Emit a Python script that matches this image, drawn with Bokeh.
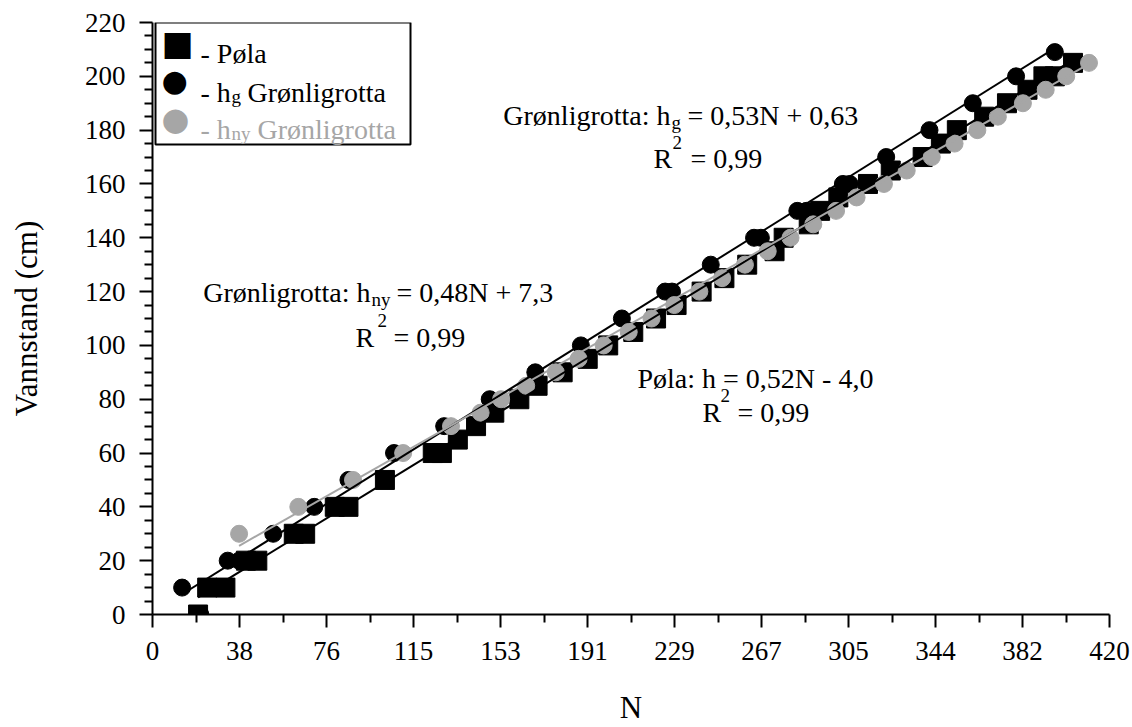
from bokeh.plotting import figure
from bokeh.models import (FixedTicker, CustomJSTickFormatter, Label, BoxAnnotation, Range1d)
from bokeh.embed import file_html
from bokeh.resources import INLINE

# ---------------- data ----------------
pola_N = [20, 24, 32, 41, 46, 62, 67, 80, 86, 102, 123, 127, 134, 142, 150, 161, 169, 180, 191,
          200, 211, 221, 230, 241, 251, 261, 273, 277, 288, 293, 301, 314, 324, 338, 346, 353,
          365, 375, 384, 391, 396, 404]
pola_h = [0, 10, 10, 20, 20, 30, 30, 40, 40, 50, 60, 60, 65, 70, 75, 80, 85, 90, 95,
          100, 105, 110, 115, 120, 125, 130, 135, 140, 145, 150, 155, 160, 165, 170, 175, 180,
          185, 190, 195, 200, 200, 205]

hg_N = [21, 13, 33, 38, 53, 71, 86, 106, 128, 148, 168, 188, 206, 225, 228, 245, 264, 267,
        283, 287, 303, 306, 322, 341, 360, 379, 396]
hg_h = [0, 10, 20, 20, 30, 40, 50, 60, 70, 80, 90, 100, 110, 120, 120, 130, 140, 140,
        150, 150, 160, 160, 170, 180, 190, 200, 209]

hny_N = [38, 64, 88, 110, 131, 144, 153, 164, 177, 187, 198, 209, 219, 229, 240, 250, 260,
         270, 280, 290, 300, 309, 321, 331, 342, 352, 362, 371, 382, 392, 401, 411]
hny_h = [30, 40, 50, 60, 70, 75, 80, 85, 90, 95, 100, 105, 110, 115, 120, 125, 130,
         135, 140, 145, 150, 155, 160, 165, 170, 175, 180, 185, 190, 195, 200, 205]

# trendline coefficients as printed on the chart (slope, intercept)
pola_fit = [0.52, -4.0]
hg_fit = [0.53, 0.63]
hny_fit = [0.48, 7.3]

x_tick_labels = ["0", "38", "76", "115", "153", "191", "229", "267", "305", "344", "382", "420"]
y_tick_labels = ["0", "20", "40", "60", "80", "100", "120", "140", "160", "180", "200", "220"]

BLACK = "#000000"
GRAY = "#a6a6a6"
SERIF = "Liberation Serif"

XMAX, YMAX = 420, 220
# frame position on the canvas (px) - used only to place annotation texts
FL, FR, FT, FB = 152, 1109, 22, 614


def xd(px):
    return (px - FL) * XMAX / (FR - FL)


def yd(py):
    return (FB - py) * YMAX / (FB - FT)


p = figure(frame_width=FR - FL, frame_height=FB - FT,
           x_range=Range1d(0, XMAX), y_range=Range1d(0, YMAX),
           output_backend="svg", toolbar_location=None,
           min_border_left=FL, min_border_right=22, min_border_top=FT, min_border_bottom=112)
p.background_fill_color = "white"
p.border_fill_color = "white"
p.outline_line_color = None
p.grid.visible = False

n = len(x_tick_labels) - 1
x_major = [XMAX * i / n for i in range(n + 1)]
x_minor = [XMAX * (i + 0.5) / n for i in range(n)]
p.xaxis.ticker = FixedTicker(ticks=x_major, minor_ticks=x_minor)
p.xaxis.formatter = CustomJSTickFormatter(args=dict(labels=x_tick_labels),
                                          code="return labels[index];")
y_major = [float(v) for v in y_tick_labels]
y_minor = [v + d for v in y_major[:-1] for d in (5, 10, 15)]
p.yaxis.ticker = FixedTicker(ticks=y_major, minor_ticks=y_minor)

for ax in (p.xaxis[0], p.yaxis[0]):
    ax.axis_line_color = BLACK
    ax.axis_line_width = 2
    ax.major_tick_line_color = BLACK
    ax.major_tick_line_width = 2
    ax.major_tick_out = 13
    ax.major_tick_in = 0
    ax.minor_tick_line_color = BLACK
    ax.minor_tick_line_width = 2
    ax.minor_tick_out = 8
    ax.minor_tick_in = 0
    ax.major_label_text_font = SERIF
    ax.major_label_text_font_size = "27px"
    ax.major_label_text_color = BLACK
    ax.axis_label_text_font = SERIF
    ax.axis_label_text_font_size = "31px"
    ax.axis_label_text_font_style = "normal"
    ax.axis_label_text_color = BLACK

p.xaxis.axis_label = "N"
p.xaxis.major_label_standoff = 14
p.xaxis.axis_label_standoff = 27
p.yaxis.axis_label = "Vannstand (cm)"
p.yaxis.major_label_standoff = 14
p.yaxis.axis_label_standoff = 38

# ---------------- markers ----------------
p.scatter(pola_N, pola_h, marker="square", size=19, fill_color=BLACK, line_color=BLACK)
p.scatter(hg_N, hg_h, marker="circle", size=17, fill_color=BLACK, line_color=BLACK)
p.scatter(hny_N, hny_h, marker="circle", size=17, fill_color=GRAY, line_color=GRAY)

# ---------------- trendlines ----------------
for xs, fit, col in ((pola_N, pola_fit, BLACK), (hg_N, hg_fit, BLACK), (hny_N, hny_fit, GRAY)):
    x0, x1 = min(xs), max(xs)
    p.line([x0, x1], [fit[0] * x0 + fit[1], fit[0] * x1 + fit[1]], line_color=col, line_width=2)


# ---------------- texts ----------------
def txt(px, py, text, size="28px", color=BLACK, align="left", font=SERIF, baseline="alphabetic"):
    p.add_layout(Label(x=xd(px), y=yd(py), text=text, text_font=font, text_font_size=size,
                       text_color=color, text_align=align, text_baseline=baseline))


SUB = "19px"

# annotation for h_g
txt(670, 115, "Grønligrotta: h", align="right")
txt(671, 122, "g", size=SUB)
txt(687, 115, "= 0,53N + 0,63")
txt(653, 158, "R")
txt(672, 142, "2", size=SUB)
txt(690, 158, "= 0,99")

# annotation for h_ny
txt(370, 292, "Grønligrotta: h", align="right")
txt(371, 299, "ny", size=SUB)
txt(396, 292, "= 0,48N + 7,3")
txt(355, 337, "R")
txt(377, 320, "2", size=SUB)
txt(393, 337, "= 0,99")

# annotation for Pøla
txt(637, 378, "Pøla: h = 0,52N - 4,0")
txt(702, 412, "R")
txt(720, 395, "2", size=SUB)
txt(737, 412, "= 0,99")

# ---------------- legend (box, keys, texts) ----------------
p.add_layout(BoxAnnotation(left=xd(155), right=xd(410), top=yd(22), bottom=yd(144),
                           fill_color="white", fill_alpha=1.0, line_color=BLACK,
                           line_alpha=1.0, line_width=2, line_dash="solid"))
txt(177, 42, "■", size="34px", align="center", font="DejaVu Sans", baseline="middle")
txt(174, 80, "●", size="30px", align="center", font="DejaVu Sans", baseline="middle")
txt(175, 118, "●", size="32px", color=GRAY, align="center", font="DejaVu Sans", baseline="middle")

txt(200, 53, "- Pøla")
txt(200, 92, "- h")
txt(231, 96, "g", size=SUB)
txt(247, 92, "Grønligrotta")
txt(200, 129, "- h", color=GRAY)
txt(231, 133, "ny", size=SUB, color=GRAY)
txt(257, 129, "Grønligrotta", color=GRAY)

open("out.html", "w").write(file_html(p, INLINE))
